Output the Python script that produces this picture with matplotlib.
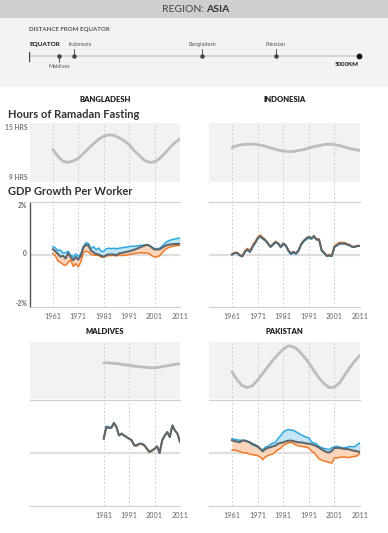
import matplotlib.pyplot as plt

plt.rcParams['font.family'] = ['Lato', 'DejaVu Sans']

# ---- data -------------------------------------------------------------
countries = ['Maldives', 'Indonesia', 'Bangladesh', 'Pakistan']
distance_km = [455, 680, 2620, 3740]

fast_years = list(range(1961, 2012, 2))
fast_bangladesh = [12.3, 11.6, 11.1, 11.0, 11.15, 11.4, 11.9, 12.4, 12.9, 13.35, 13.65, 13.8, 13.75,
                   13.5, 13.2, 12.8, 12.2, 11.7, 11.2, 11.0, 11.05, 11.4, 11.9, 12.5, 13.0, 13.4]
fast_indonesia = [12.5, 12.7, 12.8, 12.85, 12.85, 12.8, 12.7, 12.55, 12.4, 12.25, 12.15, 12.1, 12.1,
                  12.2, 12.3, 12.45, 12.6, 12.7, 12.8, 12.85, 12.8, 12.7, 12.55, 12.4, 12.3, 12.2]
fast_pakistan = [11.85, 11.0, 10.4, 10.2, 10.4, 11.0, 11.7, 12.4, 13.1, 13.7, 14.25, 14.6, 14.5,
                 14.1, 13.5, 12.8, 12.0, 11.2, 10.6, 10.2, 10.25, 10.7, 11.5, 12.3, 13.0, 13.6]
fast_years_mdv = list(range(1981, 2012, 2))
fast_maldives = [12.8, 12.8, 12.75, 12.7, 12.6, 12.55, 12.45, 12.4, 12.35, 12.3, 12.3, 12.35,
                 12.45, 12.55, 12.65, 12.7]

gdp_years = list(range(1961, 2012))
bgd_blue = [0.30, 0.25, 0.15, 0.17, 0.05, 0.07, 0.12, -0.02, -0.09, 0.02, -0.08, 0.02, 0.30, 0.45, 0.42,
            0.22, 0.30, 0.18, 0.25, 0.12, 0.12, 0.22, 0.24, 0.22, 0.24, 0.22, 0.24, 0.25, 0.27, 0.28,
            0.30, 0.32, 0.31, 0.33, 0.34, 0.35, 0.36, 0.36, 0.33, 0.28, 0.22, 0.22, 0.24, 0.32, 0.42,
            0.50, 0.54, 0.57, 0.59, 0.61, 0.63]
bgd_gray = [0.20, 0.12, 0.02, -0.08, -0.05, -0.15, 0.05, -0.10, -0.22, -0.10, -0.20, -0.05, 0.28, 0.36,
            0.35, 0.15, 0.08, 0.02, 0.0, -0.05, -0.08, -0.02, 0.0, 0.0, 0.0, -0.03, 0.04, 0.05, 0.08,
            0.10, 0.12, 0.15, 0.18, 0.22, 0.26, 0.30, 0.34, 0.37, 0.34, 0.26, 0.19, 0.19, 0.20, 0.26,
            0.32, 0.36, 0.38, 0.39, 0.40, 0.40, 0.41]
bgd_orange = [0.04, -0.05, -0.25, -0.30, -0.38, -0.42, -0.30, -0.20, -0.45, -0.35, -0.47, -0.28, 0.08,
              0.12, 0.10, 0.0, -0.02, -0.03, -0.03, -0.10, -0.10, -0.06, -0.04, -0.04, -0.03, -0.05,
              -0.03, -0.04, -0.03, -0.02, 0.0, 0.02, 0.04, 0.05, 0.06, 0.07, 0.06, 0.06, 0.02, -0.05,
              -0.10, -0.08, -0.05, 0.08, 0.17, 0.24, 0.28, 0.31, 0.33, 0.34, 0.35]

idn_gray = [0.0, 0.06, 0.06, -0.03, -0.07, 0.10, 0.19, 0.10, 0.29, 0.44, 0.61, 0.70, 0.61, 0.54, 0.42,
            0.29, 0.38, 0.48, 0.42, 0.29, 0.42, 0.35, 0.16, 0.04, 0.10, 0.04, 0.16, 0.39, 0.52, 0.61,
            0.67, 0.61, 0.70, 0.57, 0.57, 0.16, 0.06, -0.05, -0.03, -0.06, 0.29, 0.35, 0.42, 0.42,
            0.42, 0.38, 0.35, 0.29, 0.29, 0.33, 0.33]
idn_blue = [-0.02, 0.05, 0.05, -0.04, -0.08, 0.09, 0.18, 0.09, 0.28, 0.43, 0.60, 0.69, 0.60, 0.53, 0.41,
            0.28, 0.36, 0.46, 0.40, 0.26, 0.39, 0.32, 0.12, 0.0, 0.06, 0.01, 0.13, 0.36, 0.49, 0.57,
            0.63, 0.58, 0.68, 0.56, 0.56, 0.15, 0.05, -0.07, -0.05, -0.07, 0.28, 0.34, 0.41, 0.41,
            0.41, 0.37, 0.34, 0.28, 0.28, 0.32, 0.33]
idn_orange = [0.02, 0.08, 0.08, -0.01, -0.04, 0.14, 0.23, 0.15, 0.34, 0.49, 0.65, 0.74, 0.65, 0.57, 0.45,
              0.31, 0.40, 0.50, 0.44, 0.30, 0.43, 0.36, 0.17, 0.05, 0.11, 0.05, 0.17, 0.40, 0.53, 0.62,
              0.68, 0.63, 0.72, 0.59, 0.59, 0.18, 0.08, -0.03, 0.0, -0.03, 0.33, 0.40, 0.46, 0.46,
              0.45, 0.41, 0.37, 0.31, 0.30, 0.34, 0.34]

pak_blue = [0.54, 0.51, 0.50, 0.48, 0.48, 0.48, 0.44, 0.38, 0.30, 0.27, 0.23, 0.16, 0.12, 0.22, 0.25,
            0.32, 0.38, 0.40, 0.55, 0.65, 0.78, 0.85, 0.88, 0.87, 0.85, 0.80, 0.74, 0.69, 0.64, 0.60,
            0.57, 0.42, 0.38, 0.34, 0.25, 0.20, 0.17, 0.15, 0.13, 0.20, 0.23, 0.25, 0.23, 0.19, 0.20,
            0.22, 0.25, 0.23, 0.24, 0.32, 0.38]
pak_gray = [0.48, 0.45, 0.43, 0.40, 0.47, 0.46, 0.44, 0.40, 0.34, 0.30, 0.25, 0.16, 0.06, 0.15, 0.19,
            0.22, 0.25, 0.28, 0.35, 0.38, 0.40, 0.44, 0.46, 0.47, 0.45, 0.42, 0.40, 0.40, 0.38, 0.36,
            0.35, 0.33, 0.30, 0.26, 0.20, 0.14, 0.08, 0.03, 0.02, 0.08, 0.19, 0.19, 0.19, 0.17, 0.15,
            0.15, 0.13, 0.10, 0.08, 0.06, 0.04]
pak_orange = [0.10, 0.12, 0.08, 0.06, 0.02, 0.0, 0.0, -0.05, -0.06, -0.08, -0.10, -0.15, -0.25, -0.15,
              -0.10, -0.06, -0.03, 0.06, 0.12, 0.18, 0.28, 0.34, 0.38, 0.40, 0.36, 0.30, 0.27, 0.25,
              0.24, 0.22, 0.19, 0.08, 0.02, -0.10, -0.22, -0.27, -0.30, -0.33, -0.36, -0.38, -0.18,
              -0.19, -0.16, -0.15, -0.15, -0.17, -0.17, -0.14, -0.13, -0.10, 0.0]

mdv_years = list(range(1981, 2012))
mdv_gray = [0.54, 0.98, 0.95, 0.95, 1.13, 0.98, 0.66, 0.73, 0.66, 0.60, 0.54, 0.48, 0.29, 0.29, 0.35,
            0.35, 0.29, 0.16, 0.04, 0.10, 0.16, 0.25, 0.0, 0.48, 0.66, 0.79, 0.60, 1.04, 0.85, 0.73, 0.41]
mdv_blue = [0.55, 1.01, 0.98, 0.98, 1.15, 1.0, 0.67, 0.74, 0.66, 0.60, 0.54, 0.48, 0.29, 0.29, 0.35,
            0.35, 0.29, 0.16, 0.04, 0.10, 0.16, 0.25, 0.0, 0.48, 0.66, 0.79, 0.60, 1.04, 0.85, 0.73, 0.41]
mdv_orange = [0.54, 0.98, 0.95, 0.95, 1.13, 0.98, 0.66, 0.73, 0.66, 0.60, 0.54, 0.47, 0.27, 0.27, 0.33,
              0.33, 0.27, 0.14, 0.02, 0.08, 0.14, 0.25, 0.0, 0.48, 0.66, 0.79, 0.60, 1.04, 0.85, 0.73, 0.41]

decades = [1961, 1971, 1981, 1991, 2001, 2011]

# ---- layout helpers (pixel coords, origin top-left) --------------------
W, H = 388, 533
fig = plt.figure(figsize=(W / 100, H / 100), dpi=100)


def px_axes(x0, y0, x1, y1, z=1):
    return fig.add_axes([x0 / W, 1 - y1 / H, (x1 - x0) / W, (y1 - y0) / H], zorder=z)


def ftext(x, y, s, **kw):
    return fig.text(x / W, 1 - y / H, s, **kw)


BLUE = '#2aa8e0'
ORANGE = '#f07a2a'
GRAY = '#5d676c'

# header
hdr = px_axes(0, 0, W, 87, z=0)
hdr.axis('off')
hdr.set_xlim(0, W)
hdr.set_ylim(87, 0)
hdr.axhspan(0, 18, color='#cfcfcf', lw=0)
hdr.axhspan(18, 87, color='#f3f3f3', lw=0)
ftext(204, 9, 'REGION:', ha='right', va='center', fontsize=7.5, color='#444')
ftext(206, 9, 'ASIA', ha='left', va='center', fontsize=7.5, color='#333', fontweight='bold')
ftext(29, 29.5, 'DISTANCE FROM EQUATOR', ha='left', va='center', fontsize=4.4, color='#555',
      fontweight='bold')
ftext(29, 45, 'EQUATOR', ha='left', va='center', fontsize=4.6, color='#111', fontweight='bold')
ftext(359, 64.5, '5000KM', ha='right', va='center', fontsize=4.4, color='#111', fontweight='bold')

dist = px_axes(29, 18, 359, 87, z=2)
dist.axis('off')
dist.set_xlim(0, 5000)
dist.set_ylim(87, 18)
dist.plot([0, 5000], [56, 56], color='#cfcfcf', lw=1.2, zorder=1)
dist.plot([0, 0], [52, 61], color='#444', lw=1, zorder=2)
dist.scatter([5000], [56], s=10, color='#111', zorder=3, clip_on=False)
for name, d in zip(countries, distance_km):
    dist.scatter([d], [56], s=5, color='#444', zorder=3)
    if name == 'Maldives':
        dist.plot([d, d], [56, 62], color='#444', lw=0.6)
        dist.text(d, 67, name, ha='center', va='center', fontsize=4, color='#555')
    else:
        dist.plot([d, d], [49, 56], color='#444', lw=0.6)
        dist.text(d if name != 'Indonesia' else d + 100, 45, name, ha='center', va='center',
                  fontsize=4, color='#555')


def draw_country(x0, x1, yf0, yf1, yg0, yg1, title, ty, fy, fv, gy, blue, gray, orange, ticks,
                 left_axis=False):
    col = px_axes(x0, yf0, x1, yg1, z=0)
    col.axis('off')
    col.set_xlim(1952, 2011)
    col.set_ylim(0, 1)
    col.axhspan((yg1 - yf1) / (yg1 - yf0), 1, color='#f2f2f2', lw=0)
    col.vlines(ticks, 0, 1, colors='#c4c4c4', linestyles=(0, (2, 2.5)), lw=0.6)

    fa = px_axes(x0, yf0, x1, yf1, z=1)
    fa.patch.set_alpha(0)
    fa.set_xlim(1952, 2011)
    fa.set_ylim(9, 15)
    fa.plot(fy, fv, color='#bdbdbd', lw=2, solid_capstyle='round')
    fa.axis('off')

    ga = px_axes(x0, yg0, x1, yg1, z=1)
    ga.patch.set_alpha(0)
    ga.set_xlim(1952, 2011)
    ga.set_ylim(-2, 2)
    ga.axhline(0, color='#dedede', lw=1.6, zorder=0)
    ga.fill_between(gy, gray, blue, color='#c4e5f6', lw=0, zorder=1)
    ga.fill_between(gy, gray, orange, color='#fbd6bd', lw=0, zorder=1)
    ga.plot(gy, blue, color=BLUE, lw=1.1, zorder=2)
    ga.plot(gy, orange, color=ORANGE, lw=1.1, zorder=2)
    ga.plot(gy, gray, color=GRAY, lw=1.5, zorder=3)
    for s in ['top', 'bottom']:
        ga.spines[s].set_color('#cfcfcf')
        ga.spines[s].set_linewidth(0.8)
    ga.spines['right'].set_visible(False)
    if left_axis:
        ga.spines['left'].set_color('#555')
        ga.spines['left'].set_linewidth(1)
    else:
        ga.spines['left'].set_visible(False)
    ga.set_yticks([])
    ga.set_xticks(ticks)
    ga.set_xticklabels([str(t) for t in ticks], fontsize=5.2, color='#666')
    ga.tick_params(axis='x', length=0, pad=4)

    ftext((x0 + x1) / 2, ty, title, ha='center', va='center', fontsize=5.5,
          color='#222', fontweight='heavy')


draw_country(30, 180, 123, 182, 202, 307, 'BANGLADESH', 100, fast_years, fast_bangladesh,
             gdp_years, bgd_blue, bgd_gray, bgd_orange, decades, left_axis=True)
draw_country(209, 360, 123, 182, 202, 307, 'INDONESIA', 100, fast_years, fast_indonesia,
             gdp_years, idn_blue, idn_gray, idn_orange, decades)
draw_country(30, 180, 342, 399, 400, 506, 'MALDIVES', 331, fast_years_mdv, fast_maldives,
             mdv_years, mdv_blue, mdv_gray, mdv_orange, [1981, 1991, 2001, 2011])
draw_country(209, 360, 342, 399, 400, 506, 'PAKISTAN', 331, fast_years, fast_pakistan,
             gdp_years, pak_blue, pak_gray, pak_orange, decades)

# section titles and y labels for the first panel
ftext(8, 114, 'Hours of Ramadan Fasting', ha='left', va='center', fontsize=8, color='#333',
      fontweight='bold')
ftext(8, 192, 'GDP Growth Per Worker', ha='left', va='center', fontsize=8, color='#333',
      fontweight='bold')
ftext(28, 127, '15 HRS', ha='right', va='center', fontsize=4.9, color='#777', fontweight='bold')
ftext(28, 178, '9 HRS', ha='right', va='center', fontsize=4.9, color='#777', fontweight='bold')
ftext(27, 205, '2%', ha='right', va='center', fontsize=4.8, color='#666', fontweight='bold')
ftext(27, 254, '0', ha='right', va='center', fontsize=4.8, color='#666', fontweight='bold')
ftext(27, 304, '-2%', ha='right', va='center', fontsize=4.8, color='#666', fontweight='bold')

fig.savefig('out.png', dpi=100)
